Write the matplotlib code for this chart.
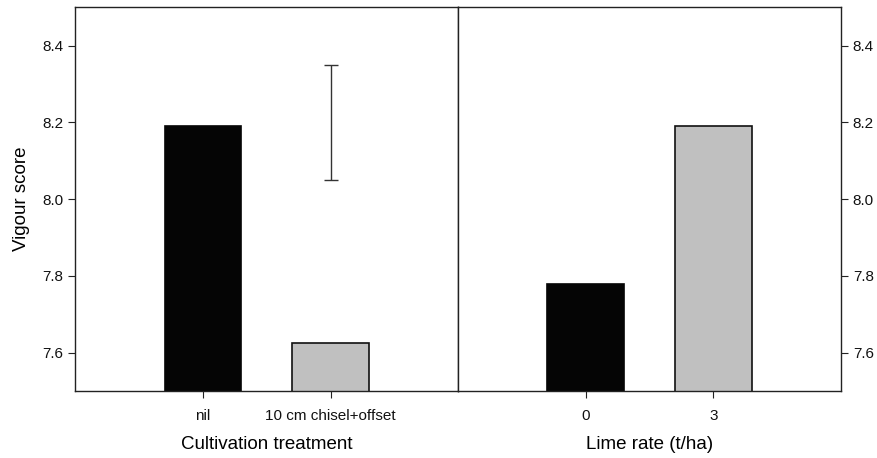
import matplotlib
matplotlib.use("Agg")
import matplotlib.pyplot as plt

plt.rcParams['font.family'] = ['Liberation Sans', 'DejaVu Sans']

# Cultivation treatment panel
cult_labels = ['nil', '10 cm chisel+offset']
cult_values = [8.19, 7.625]

# LSD bar shown above the cultivation treatments
lsd_center = 8.2
lsd_half = 0.15

# Lime rate panel
lime_labels = ['0', '3']
lime_values = [7.78, 8.19]

bar_colors = ['#050505', '#c0c0c0']
y_ticks = [7.6, 7.8, 8.0, 8.2, 8.4]


def style_axes(ax):
    for s in ax.spines.values():
        s.set_linewidth(1.0)
        s.set_color('#222222')
    ax.set_xlim(0, 3)
    ax.set_ylim(7.5, 8.5)
    ax.set_yticks(y_ticks)
    ax.tick_params(axis='both', direction='out', length=5, width=0.8,
                   color='#222222', labelsize=11, labelcolor='#111111')
    ax.tick_params(axis='x', pad=8)


fig = plt.figure(figsize=(8.77, 4.58), dpi=100)
ax1 = fig.add_axes([0.0859, 0.1463, 0.4367, 0.8377])
ax2 = fig.add_axes([0.5222, 0.1463, 0.4367, 0.8377])

# left panel
style_axes(ax1)
ax1.bar([1, 2], cult_values, width=0.6, bottom=0, color=bar_colors,
        edgecolor=['#050505', '#111111'], linewidth=1.2)
ax1.errorbar([2], [lsd_center], yerr=[lsd_half], fmt='none', ecolor='#333333',
             elinewidth=1.0, capsize=5, capthick=1.0)
ax1.set_xticks([1, 2])
ax1.set_xticklabels(cult_labels)
ax1.yaxis.set_ticks_position('both')
ax1.set_ylabel('Vigour score', fontsize=13.5, labelpad=9)
ax1.set_xlabel('Cultivation treatment', fontsize=13.5, labelpad=9)

# right panel
style_axes(ax2)
ax2.bar([1, 2], lime_values, width=0.6, bottom=0, color=bar_colors,
        edgecolor=['#050505', '#111111'], linewidth=1.2)
ax2.set_xticks([1, 2])
ax2.set_xticklabels(lime_labels)
ax2.yaxis.tick_right()
ax2.set_xlabel('Lime rate (t/ha)', fontsize=13.5, labelpad=9)

fig.savefig('out.png', dpi=100)
